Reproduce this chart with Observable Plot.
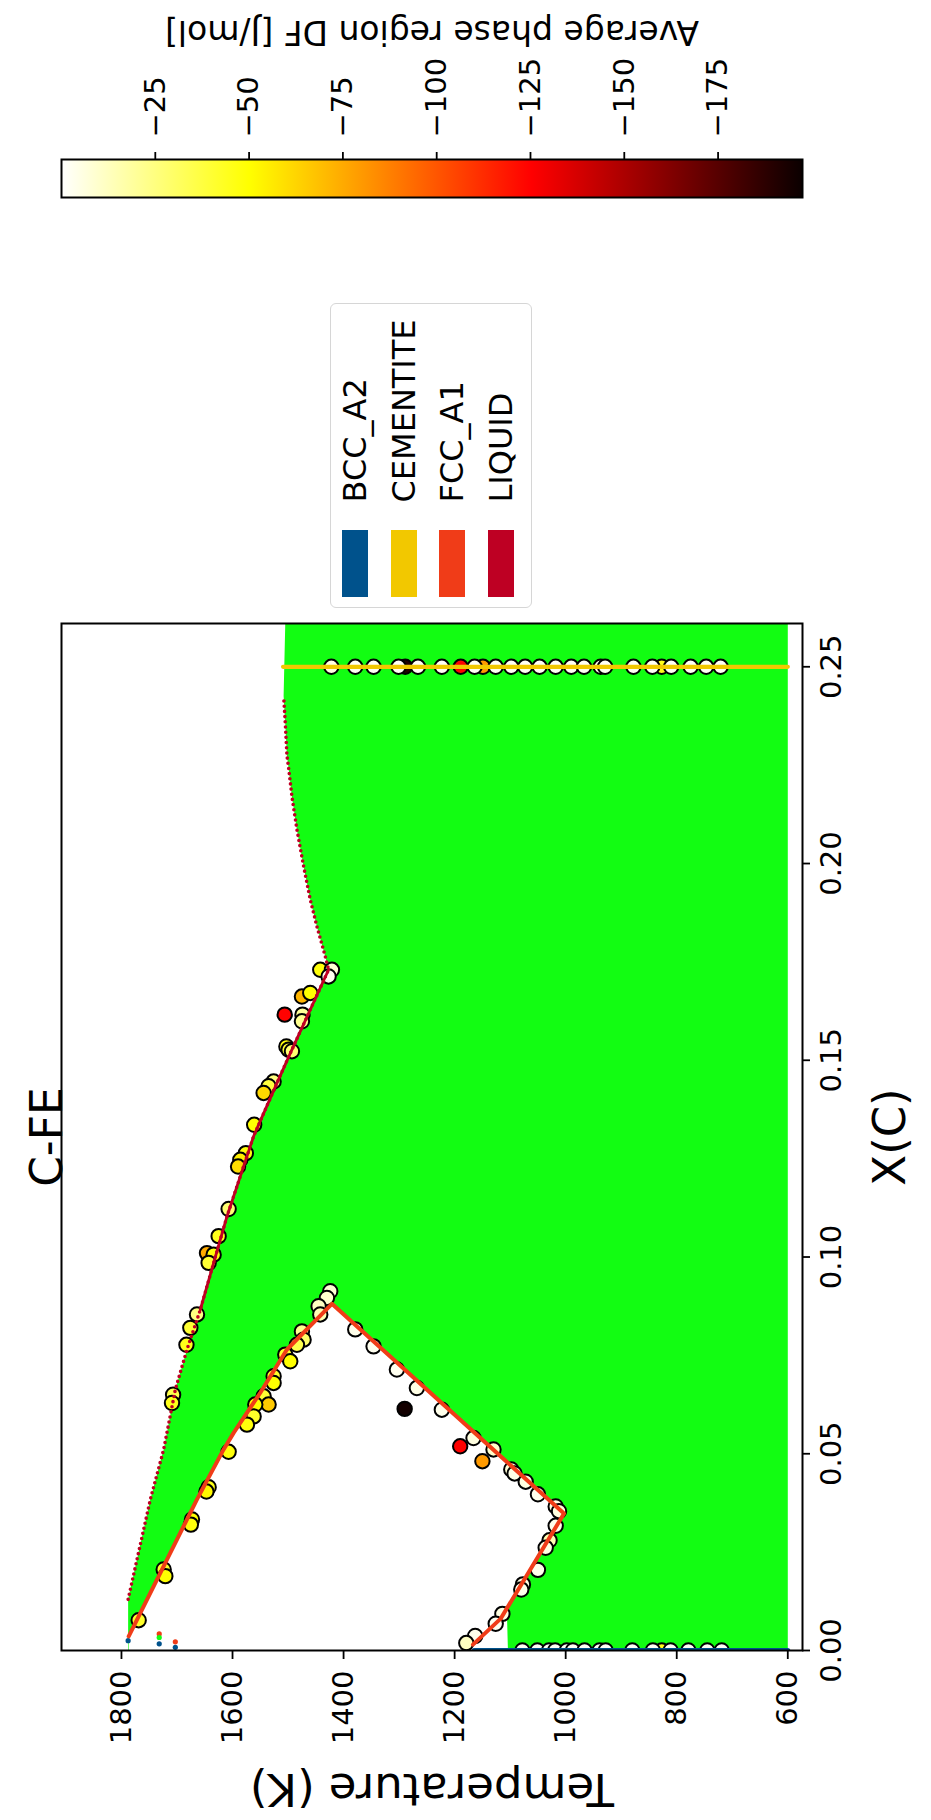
<!DOCTYPE html>
<html>
<head>
<meta charset="utf-8">
<script src="https://cdn.jsdelivr.net/npm/d3@7"></script>
<script src="https://cdn.jsdelivr.net/npm/@observablehq/plot@0.6"></script>
<style>
  html, body { margin: 0; padding: 0; background: #fff; }
  body { width: 931px; height: 1820px; overflow: hidden; position: relative; font-family: "DejaVu Sans", sans-serif; }
  /* the figure is laid out landscape and turned a quarter turn counter-clockwise */
  #fig { position: absolute; left: 0; top: 0; width: 1820px; height: 931px;
         transform-origin: 0 0; transform: translateY(1820px) rotate(-90deg); }
  #fig > * { position: absolute; }
  #fig svg { overflow: visible; }
</style>
</head>
<body>
<div id="fig"></div>
<script>
// ---- axes ----
const xDomain = [0, 0.261];          // X(C)
const tDomain = [573.5, 1908];       // Temperature (K)
const xTicks = [0, 0.05, 0.10, 0.15, 0.20, 0.25];
const tTicks = [600, 800, 1000, 1200, 1400, 1600, 1800];

// ---- phases ----
const phaseNames  = ["BCC_A2", "CEMENTITE", "FCC_A1", "LIQUID"];
const phaseColors = ["#00528c", "#f2c800", "#f03c18", "#be0023"];
const tieColor = "#12fd12";

// ---- colour map for the driving force (matplotlib "hot") ----
const dfStops  = [-197.5, -125.4, -50.2, 0];
const dfColors = ["#0b0000", "#ff0000", "#ffff00", "#ffffff"];
const dfTicks  = [-25, -50, -75, -100, -125, -150, -175];

// ---- phase boundaries, [X(C), T] ----
const liquidusLine = [
  [0.0130, 1788], [0.0384, 1748], [0.0511, 1724], [0.0663, 1703], [0.0765, 1682],
  [0.0866, 1658], [0.0985, 1634], [0.1103, 1610], [0.1205, 1586], [0.1307, 1562],
  [0.1442, 1520], [0.1527, 1493], [0.1730, 1427], [0.1764, 1433], [0.1840, 1448],
  [0.1908, 1460], [0.1993, 1472], [0.2086, 1484], [0.2170, 1493], [0.2243, 1499],
  [0.2274, 1502], [0.2357, 1505], [0.2426, 1508]
];
const fccLine = [
  [0.0015, 1167], [0.0081, 1117], [0.0348, 1003], [0.0881, 1421], [0.0765, 1502],
  [0.0655, 1550], [0.0553, 1598], [0.0511, 1616], [0.0384, 1664], [0.0036, 1787]
];
const bccLine = [[0, 1165], [0, 600]];
const cementiteLine = [[0.25, 600], [0.25, 1509]];
// corners of the two-phase (tie-line) field
const tieFieldCorners = [[0, 600], [0.261, 600], [0.261, 1505]];
const tieFieldTopLeft = [[0, 1788]];
// lower edge of the single-phase FCC field next to the axis
const fccFieldFoot = [[0, 1104], [0.0105, 1106]];
const fccFieldTop = [[0, 1787]];

// ---- sampled points, [X(C), T, DF] ----
const liquidusPts = [
  [0.1535, 1503, -48], [0.1527, 1499, -40], [0.1523, 1493, -28], [0.1446, 1526, -25],
  [0.1434, 1535, -38], [0.1417, 1544, -62], [0.1336, 1561, -50], [0.1264, 1576, -48],
  [0.1247, 1586, -55], [0.1230, 1590, -60], [0.1122, 1607, -28], [0.1053, 1625, -45],
  [0.1010, 1646, -75], [0.1006, 1634, -48], [0.0985, 1643, -40], [0.0854, 1664, -25],
  [0.0820, 1676, -40], [0.0777, 1683, -45], [0.0650, 1707, -35], [0.0629, 1709, -45]
];
const eutecticPts = [
  [0.1730, 1442, -48], [0.1730, 1421, -8], [0.1713, 1427, -3], [0.1662, 1475, -72],
  [0.1671, 1460, -50], [0.1616, 1506, -125], [0.1616, 1474, -20], [0.1599, 1475, -22]
];
const solidusPts = [
  [0.0913, 1424, -8], [0.0896, 1430, -10], [0.0875, 1445, -12], [0.0854, 1442, -15],
  [0.0811, 1475, -22], [0.0790, 1472, -30], [0.0777, 1484, -35], [0.0752, 1505, -42],
  [0.0735, 1496, -50], [0.0697, 1526, -42], [0.0680, 1526, -50], [0.0646, 1544, -40],
  [0.0625, 1535, -66], [0.0625, 1559, -50], [0.0595, 1562, -42], [0.0574, 1574, -48],
  [0.0505, 1607, -48], [0.0415, 1643, -45], [0.0404, 1647, -52], [0.0333, 1673, -50],
  [0.0320, 1675, -48], [0.0206, 1724, -42], [0.0189, 1721, -50], [0.0077, 1769, -42]
];
const solvusPts = [
  [0.0816, 1379, -4], [0.0773, 1346, -3], [0.0714, 1304, -3], [0.0667, 1268, -5],
  [0.0612, 1223, -4], [0.0540, 1166, -6], [0.0511, 1130, -10], [0.0460, 1098, -8],
  [0.0450, 1092, -5], [0.0429, 1072, -6], [0.0397, 1050, -4], [0.0366, 1018, -5],
  [0.0354, 1012, -6], [0.0317, 1018, -4], [0.0280, 1029, -15], [0.0261, 1036, -6],
  [0.0205, 1050, -4], [0.0168, 1077, -5], [0.0155, 1080, -4], [0.0093, 1114, -6],
  [0.0068, 1126, -3], [0.0037, 1163, -4], [0.0019, 1179, -12]
];
const strayPts = [[0.0614, 1290, -195], [0.0519, 1190, -125], [0.0481, 1150, -80]];
const ironEdgePts = [
  [0, 827, -45], [0, 1078, -2], [0, 1051, -2], [0, 1030, -2], [0, 1019, -2], [0, 998, -2],
  [0, 987, -2], [0, 966, -2], [0, 939, -2], [0, 928, -2], [0, 880, -2], [0, 843, -2],
  [0, 811, -2], [0, 779, -2], [0, 745, -2], [0, 719, -2]
];
const cementitePts = [
  [0.25, 1289, -190], [0.25, 1149, -80], [0.25, 827, -45],
  [0.25, 1422, -6], [0.25, 1379, -2], [0.25, 1346, -2], [0.25, 1301, -2], [0.25, 1266, -2],
  [0.25, 1223, -2], [0.25, 1164, -2], [0.25, 1126, -2], [0.25, 1098, -2], [0.25, 1073, -2],
  [0.25, 1047, -2], [0.25, 1018, -2], [0.25, 990, -2], [0.25, 967, -2], [0.25, 937, -2],
  [0.25, 929, -2], [0.25, 878, -2], [0.25, 844, -2], [0.25, 810, -2], [0.25, 775, -2],
  [0.25, 747, -2], [0.25, 721, -2], [0.25, 1189, -125]
];
// tiny phase markers at the iron end, [X(C), T, phase]
const phaseMarks = [
  [0.0025, 1788, "BCC_A2"], [0.0042, 1732, "FCC_A1"], [0.0033, 1732, "tie"],
  [0.0017, 1732, "BCC_A2"], [0.0022, 1703, "FCC_A1"], [0.0008, 1703, "BCC_A2"]
];

// ---- helpers ----
const pt = ([X, T]) => ({X, T});
const dot = ([X, T, DF]) => ({X, T, DF});
const phaseColor = p => p === "tie" ? tieColor : phaseColors[phaseNames.indexOf(p)];

const tieField = [...tieFieldCorners, ...liquidusLine.slice().reverse(), ...tieFieldTopLeft].map(pt);
const fccField = [...fccFieldFoot, ...fccLine.slice(2), ...fccFieldTop].map(pt);
const allPts = [...liquidusPts, ...eutecticPts, ...solidusPts, ...solvusPts, ...strayPts,
                ...ironEdgePts, ...cementitePts].map(dot);
const liquidSolid = liquidusLine.filter(d => d[0] >= 0.0866 && d[0] <= 0.1730).map(pt);

const font = "DejaVu Sans";
const fig = document.getElementById("fig");

// ---- main diagram ----
const main = Plot.plot({
  width: 1200, height: 931,
  marginLeft: 169, marginRight: 4, marginTop: 61, marginBottom: 129,
  style: {fontFamily: font, background: "transparent", color: "black"},
  x: {domain: xDomain},
  y: {domain: tDomain},
  color: {type: "linear", domain: dfStops, range: dfColors, interpolate: "rgb"},
  marks: [
    Plot.line(tieField, {x: "X", y: "T", fill: tieColor, stroke: "none"}),
    Plot.line(fccField, {x: "X", y: "T", fill: "white", stroke: "none"}),
    Plot.dot(allPts, {x: "X", y: "T", r: 7.2, fill: "DF", stroke: "black", strokeWidth: 2, clip: "frame"}),
    Plot.dot(phaseMarks.map(([X, T, p]) => ({X, T, p})),
             {x: "X", y: "T", r: 2.6, fill: d => phaseColor(d.p), stroke: "none", clip: "frame"}),
    Plot.line(liquidusLine.map(pt), {x: "X", y: "T", stroke: phaseColors[3], strokeWidth: 3.6,
             strokeDasharray: "0 5.2", strokeLinecap: "round"}),
    Plot.line(liquidSolid, {x: "X", y: "T", stroke: phaseColors[3], strokeWidth: 2.8}),
    Plot.line(fccLine.map(pt), {x: "X", y: "T", stroke: phaseColors[2], strokeWidth: 4}),
    Plot.line(cementiteLine.map(pt), {x: "X", y: "T", stroke: phaseColors[1], strokeWidth: 4.2}),
    Plot.line(bccLine.map(pt), {x: "X", y: "T", stroke: phaseColors[0], strokeWidth: 5, clip: "frame"}),
    Plot.frame({stroke: "black", strokeWidth: 2}),
    Plot.axisX({ticks: xTicks, tickFormat: ".2f", tickSize: 8, tickPadding: 10, fontSize: 29,
                strokeWidth: 1.8, label: null}),
    Plot.axisY({ticks: tTicks, tickFormat: d => String(d), tickSize: 8, tickPadding: 12, fontSize: 29,
                strokeWidth: 1.8, label: null}),
    Plot.text(["Temperature (K)"], {text: d => d, frameAnchor: "left", textAnchor: "middle",
              dx: -138, rotate: -90, fontSize: 45}),
    Plot.text(["X(C)"], {text: d => d, frameAnchor: "bottom", textAnchor: "middle", dy: 102, fontSize: 45}),
    Plot.text(["C-FE"], {text: d => d, frameAnchor: "top", textAnchor: "middle", dy: -31, fontSize: 44})
  ]
});
main.style.left = "0px";
main.style.top = "0px";
fig.appendChild(main);

// ---- colour bar ----
const minus = d => (d < 0 ? "\u2212" : "") + Math.abs(d);
const cbar = Plot.plot({
  width: 260, height: 931,
  marginLeft: 62, marginRight: 160, marginTop: 61, marginBottom: 129,
  style: {fontFamily: font, background: "transparent", color: "black"},
  x: {domain: [0, 1], axis: null},
  y: {domain: [dfStops[0], dfStops[dfStops.length - 1]]},
  marks: [
    Plot.rect([dfStops], {x1: 0, x2: 1, y1: d => d[0], y2: d => d[d.length - 1], fill: "url(#hotRamp)"}),
    Plot.frame({stroke: "black", strokeWidth: 2}),
    Plot.axisY({anchor: "right", ticks: dfTicks, tickFormat: minus, tickSize: 7, tickPadding: 15,
                fontSize: 29, strokeWidth: 1.8, label: null}),
    Plot.text(["Average phase region DF [J/mol]"], {text: d => d, frameAnchor: "right", textAnchor: "middle",
              dx: 127.5, rotate: -90, fontSize: 33})
  ]
});
const lo = dfStops[0], hi = dfStops[dfStops.length - 1];
const grad = d3.select(cbar).insert("defs", ":first-child")
  .append("linearGradient").attr("id", "hotRamp")
  .attr("x1", 0).attr("y1", 1).attr("x2", 0).attr("y2", 0);
dfStops.forEach((v, i) => {
  grad.append("stop").attr("offset", (v - lo) / (hi - lo)).attr("stop-color", dfColors[i]);
});
cbar.style.left = "1560px";
cbar.style.top = "0px";
fig.appendChild(cbar);

// ---- phase legend ----
const legend = document.createElement("div");
legend.style.cssText = "left:1212px;top:330px;width:305px;height:202px;box-sizing:border-box;" +
  "border:1.5px solid #d6d6d6;border-radius:6px;background:#fff;";
phaseNames.forEach((name, i) => {
  const top = 11.2 + i * 48.5;
  const sw = document.createElement("div");
  sw.style.cssText = `position:absolute;left:9.5px;top:${top}px;width:67px;height:26px;background:${phaseColors[i]};`;
  const tx = document.createElement("div");
  tx.style.cssText = `position:absolute;left:104.5px;top:${top}px;height:26px;line-height:26px;` +
    `font-size:32px;font-family:'${font}';color:#000;white-space:nowrap;`;
  tx.textContent = name;
  legend.appendChild(sw);
  legend.appendChild(tx);
});
fig.appendChild(legend);
</script>
</body>
</html>
